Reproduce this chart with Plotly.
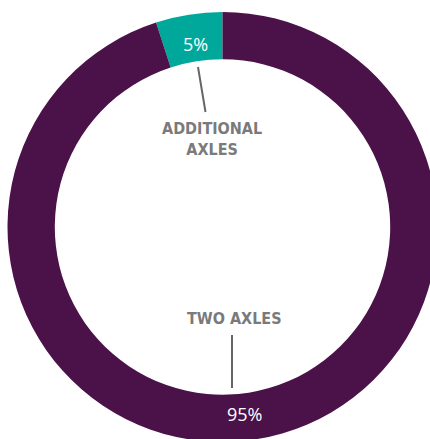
import plotly.graph_objects as go

# Share of vehicles by axle configuration
categories = ["ADDITIONAL<br>AXLES", "TWO AXLES"]
shares = [5, 95]
slice_colors = ["#00a89c", "#4a1249"]

# Canvas in pixels; the ring slightly overruns the right edge
W, H = 440, 445
CX, CY, R_OUT = 222.5, 227.0, 215.0


def fx(x):
    return x / W


def fy(y):
    return 1 - y / H


fig = go.Figure(
    go.Pie(
        labels=categories,
        values=shares,
        sort=False,
        direction="clockwise",
        rotation=-18,
        hole=0.78,
        marker=dict(colors=slice_colors, line=dict(width=0)),
        textinfo="none",
        hoverinfo="label+percent",
        showlegend=False,
        domain=dict(
            x=[fx(CX - R_OUT), fx(CX + R_OUT)],
            y=[fy(CY + R_OUT), fy(CY - R_OUT)],
        ),
    )
)


def note(x, y, text, font):
    fig.add_annotation(x=fx(x), y=fy(y), xref="paper", yref="paper",
                       xanchor="center", yanchor="middle",
                       text=text, showarrow=False, font=font, align="center")


total = sum(shares)
pct_font = dict(family="Open Sans, sans-serif", size=18, color="#ffffff")
pct_pos = [(195, 44), (245, 414)]
for v, (x, y) in zip(shares, pct_pos):
    note(x, y, f"{round(100 * v / total)}%", pct_font)

label_font = dict(family="DejaVu Sans Condensed, Liberation Sans Narrow, sans-serif",
                  size=16, color="#7a7a7a")
note(211.5, 139, "<b>ADDITIONAL<br>AXLES</b>", label_font)
note(234, 318, "<b>TWO AXLES</b>", label_font)

# Leader lines from the labels to the ring
fig.add_shape(type="line", xref="paper", yref="paper",
              x0=fx(198), y0=fy(67), x1=fx(205.5), y1=fy(112),
              line=dict(color="#666666", width=2))
fig.add_shape(type="line", xref="paper", yref="paper",
              x0=fx(232), y0=fy(335), x1=fx(232), y1=fy(388),
              line=dict(color="#666666", width=2))

fig.update_layout(
    width=W,
    height=H,
    margin=dict(l=0, r=0, t=0, b=0),
    paper_bgcolor="#ffffff",
    plot_bgcolor="#ffffff",
)

fig.write_html(
    "out.html",
    post_script="document.documentElement.style.overflow='hidden';document.body.style.overflow='hidden';document.body.style.margin='0';",
)
